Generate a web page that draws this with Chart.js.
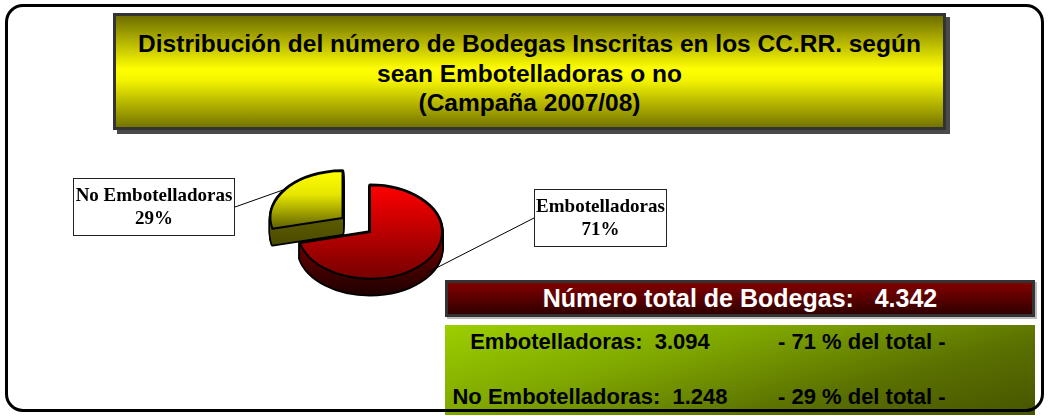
<!DOCTYPE html>
<html>
<head>
<meta charset="utf-8">
<script src="https://cdn.jsdelivr.net/npm/chart.js@4.4.1/dist/chart.umd.min.js"></script>
<style>
  html, body { margin: 0; padding: 0; background: #fff; }
  body { width: 1048px; height: 416px; position: relative; overflow: hidden;
         font-family: "Liberation Sans", Arial, sans-serif; }
  #frame { position: absolute; left: 5px; top: 4px; width: 1033px; height: 402px;
           border: 3px solid #000; border-radius: 18px; z-index: 5; }
  #title { position: absolute; left: 113px; top: 13px; width: 827px; height: 98px;
           padding-top: 13px; border: 3px solid #333; box-shadow: 4px 4px 0 #4a4a4a;
           background: linear-gradient(#6e6e00 0%, #ffff00 48%, #f4f400 58%, #747400 100%);
           text-align: center; font-weight: bold; font-size: 24.5px; line-height: 29.5px; color: #000; }
  #total { position: absolute; left: 445px; top: 280px; width: 584px; height: 31px;
           border: 3px solid #333; box-shadow: 2px 2px 0 #bbb;
           background: linear-gradient(#820000, #300000);
           color: #fff; font-weight: bold; font-size: 25px; line-height: 31px; text-align: center; white-space: pre; }
  #detail { position: absolute; left: 445px; top: 325px; width: 590px; height: 90px;
            background: linear-gradient(165deg, #9ccf00 0%, #80a800 35%, #5a7000 70%, #465400 100%); }
  .row { position: absolute; left: 0; width: 590px; height: 26px; font-weight: bold; font-size: 22px;
         line-height: 26px; color: #000; white-space: pre; }
  .c1 { position: absolute; left: 0; width: 290px; text-align: center; }
  .c2 { position: absolute; left: 333px; }
  #c { position: absolute; left: 0; top: 0; z-index: 4; }
</style>
</head>
<body>
<div id="title"></div>
<div id="total"></div>
<div id="detail"></div>
<div id="frame"></div>
<canvas id="c" width="1048" height="416"></canvas>
<script>
const categories = ['Embotelladoras', 'No Embotelladoras'];
const bodegas = [3094, 1248];
const titleLines = ['Distribución del número de Bodegas Inscritas en los CC.RR. según', 'sean Embotelladoras o no', '(Campaña 2007/08)'];

// look of the 3d pie
const topStops = [[['0', '#ff0000'], ['1', '#760000']], [['0', '#ffff00'], ['0.25', '#e6e600'], ['0.62', '#5e5e00']]];
const sideStops = [['#7a0000', '#1e0000'], ['#5c5c00', '#333300']];
const explode = [0, 35];
const squash = 0.65;
const depth = 16;
const pieRadius = 72;
// label boxes next to the pie (x, y, w, h) and where the leader leaves the box
const labelBoxes = [{x: 534, y: 189, w: 133, h: 58, side: 'left'}, {x: 73, y: 178, w: 162, h: 58, side: 'right'}];

const total = bodegas.reduce((a, b) => a + b, 0);
const pct = bodegas.map(v => Math.round(v * 100 / total));
const fmt = n => String(n).replace(/\B(?=(\d{3})+(?!\d))/g, '.');

document.getElementById('title').innerHTML = titleLines.join('<br>');
document.getElementById('total').textContent = 'Número total de Bodegas:   ' + fmt(total);
const detail = document.getElementById('detail');
categories.forEach((cat, i) => {
    const row = document.createElement('div');
    row.className = 'row';
    row.style.top = (i === 0 ? 4 : 59) + 'px';
    row.innerHTML = '<span class="c1">' + cat + ':  ' + fmt(bodegas[i]) + '</span><span class="c2">- ' + pct[i] + ' % del total -</span>';
    detail.appendChild(row);
});

function sliceCenter(arc, i) {
    const mid = (arc.startAngle + arc.endAngle) / 2;
    return {mid, cx: arc.x + Math.cos(mid) * explode[i], cy: arc.y + Math.sin(mid) * explode[i] * squash};
}

const pie3d = {
    id: 'pie3d',
    beforeDatasetsDraw(chart) {
        const ctx = chart.ctx;
        const meta = chart.getDatasetMeta(0);
        const order = meta.data.map((a, i) => i).reverse();
        order.forEach(i => {
            const arc = meta.data[i];
            const {cx, cy} = sliceCenter(arc, i);
            const rx = arc.outerRadius, ry = arc.outerRadius * squash;
            const sector = yy => {
                ctx.beginPath();
                ctx.moveTo(cx, yy);
                ctx.ellipse(cx, yy, rx, ry, 0, arc.startAngle, arc.endAngle);
                ctx.closePath();
            };
            ctx.save();
            ctx.strokeStyle = '#000';
            ctx.lineWidth = 3.5;
            ctx.lineJoin = 'round';
            for (let d = depth; d >= 0; d--) { sector(cy + d); ctx.stroke(); }
            const g = ctx.createLinearGradient(0, cy, 0, cy + ry + depth);
            g.addColorStop(0, sideStops[i][0]);
            g.addColorStop(1, sideStops[i][1]);
            ctx.fillStyle = g;
            for (let d = depth; d >= 0; d--) { sector(cy + d); ctx.fill(); }
            ctx.restore();

            ctx.save();
            ctx.translate(cx, cy);
            ctx.scale(1, squash);
            ctx.translate(-arc.x, -arc.y);
            arc.draw(ctx);
            ctx.restore();

            ctx.save();
            ctx.strokeStyle = '#000';
            ctx.lineWidth = 2;
            ctx.lineJoin = 'round';
            sector(cy);
            ctx.stroke();
            ctx.restore();
        });
        return false;
    },
    afterDraw(chart) {
        const ctx = chart.ctx;
        const meta = chart.getDatasetMeta(0);
        meta.data.forEach((arc, i) => {
            const b = labelBoxes[i];
            const {mid, cx, cy} = sliceCenter(arc, i);
            const ax = cx + Math.cos(mid) * arc.outerRadius;
            const ay = cy + Math.sin(mid) * arc.outerRadius * squash + (Math.sin(mid) > 0 ? depth * 0.75 : 0);
            const bx = b.side === 'left' ? b.x : b.x + b.w;
            const by = b.y + b.h / 2;
            ctx.save();
            ctx.strokeStyle = '#000';
            ctx.lineWidth = 1;
            ctx.beginPath();
            ctx.moveTo(ax, ay);
            ctx.lineTo(bx, by);
            ctx.stroke();
            ctx.fillStyle = '#fff';
            ctx.fillRect(b.x, b.y, b.w, b.h);
            ctx.strokeStyle = '#222';
            ctx.strokeRect(b.x + 0.5, b.y + 0.5, b.w - 1, b.h - 1);
            ctx.fillStyle = '#000';
            ctx.font = 'bold 19px "Liberation Serif", "Times New Roman", serif';
            ctx.textAlign = 'center';
            ctx.textBaseline = 'alphabetic';
            ctx.fillText(chart.data.labels[i], b.x + b.w / 2, b.y + 23);
            ctx.fillText(pct[i] + '%', b.x + b.w / 2, b.y + 46);
            ctx.restore();
        });
    }
};

const c = document.getElementById('c');
new Chart(c.getContext('2d'), {
    type: 'pie',
    data: {
        labels: categories,
        datasets: [{
            data: bodegas,
            borderWidth: 0,
            backgroundColor: (context) => {
                const i = context.dataIndex;
                const a = context.chart.chartArea;
                if (!a || i === undefined) return topStops[0][0][1];
                const my = (a.top + a.bottom) / 2;
                const g = context.chart.ctx.createLinearGradient(0, my - pieRadius, 0, my + pieRadius);
                topStops[i].forEach(s => g.addColorStop(+s[0], s[1]));
                return g;
            }
        }]
    },
    options: {
        responsive: false,
        animation: false,
        events: [],
        radius: pieRadius,
        layout: { padding: { left: 270, right: 578, top: 132, bottom: 84 } },
        plugins: {
            legend: { display: false },
            tooltip: { enabled: false }
        }
    },
    plugins: [pie3d]
});
</script>
</body>
</html>
